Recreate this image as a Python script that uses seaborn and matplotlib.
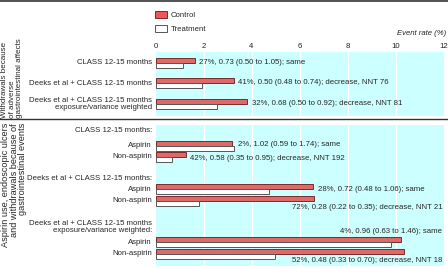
import matplotlib
matplotlib.use('Agg')
import matplotlib.pyplot as plt
import seaborn as sns
import pandas as pd
from matplotlib.patches import Patch
from matplotlib.lines import Line2D

# withdrawals because of adverse gastrointestinal affects
withdraw_labels = ['CLASS 12-15 months',
                   'Deeks et al + CLASS 12-15 months',
                   'Deeks et al + CLASS 12-15 months\nexposure/variance weighted']
withdraw_control = [1.64, 3.26, 3.83]
withdraw_treatment = [1.15, 1.94, 2.58]
withdraw_notes = ['27%, 0.73 (0.50 to 1.05); same',
                  '41%, 0.50 (0.48 to 0.74); decrease, NNT 76',
                  '32%, 0.68 (0.50 to 0.92); decrease, NNT 81']

# aspirin use, endoscopic ulcers and withdrawals
ulcer_groups = ['CLASS 12-15 months:',
                'Deeks et al + CLASS 12-15 months:',
                'Deeks et al + CLASS 12-15 months\nexposure/variance weighted:']
ulcer_labels = ['Aspirin', 'Non-aspirin'] * 3
ulcer_control = [3.20, 1.26, 6.58, 6.59, 10.23, 10.37]
ulcer_treatment = [3.27, 0.70, 4.74, 1.83, 9.81, 4.98]
ulcer_notes = ['2%, 1.02 (0.59 to 1.74); same',
               '42%, 0.58 (0.35 to 0.95); decrease, NNT 192',
               '28%, 0.72 (0.48 to 1.06); same',
               '72%, 0.28 (0.22 to 0.35); decrease, NNT 21',
               '4%, 0.96 (0.63 to 1.46); same',
               '52%, 0.48 (0.33 to 0.70); decrease, NNT 18']

section_titles = ['Withdrawals because\nof adverse\ngastrointestinal affects',
                  'Aspirin use, endoscopic ulcers\nand withdrawals because of\ngastrointestinal events']
groups = ['Control', 'Treatment']
ticks = [0, 2, 4, 6, 8, 10, 12]

# layout, in pixels from the top of the picture
W, H = 448, 269
X0, X12 = 155.5, 443.5
withdraw_rows = [63, 83.3, 103.7]
ulcer_rows = [145.7, 157, 189.3, 200.7, 242.3, 253.7]
group_rows = [130.5, 178, 227]
note_y = [62, 82.5, 103.5, 144.3, 158.5, 189.3, 207.7, 231.7, 261]
note_right = [False, False, False, False, False, False, True, True, True]
red = '#F05656'
cyan = '#CCFFFF'
fs = 5.6

sns.set_style('white')
plt.rcParams['font.family'] = ['Liberation Sans', 'DejaVu Sans']

rows = withdraw_rows + ulcer_rows
df = pd.DataFrame({
    'row': rows * 2,
    'rate': withdraw_control + ulcer_control + withdraw_treatment + ulcer_treatment,
    'group': ['Control'] * len(rows) + ['Treatment'] * len(rows),
})

fig = plt.figure(figsize=(W / 100, H / 100), dpi=100)
ax = fig.add_axes([X0 / W, 0, (X12 - X0) / W, 1 - 52 / H])

def px(x):
    # figure pixel -> data x
    return (x - X0) / (X12 - X0) * 12

# cyan panels with white grid
for top, bot in [(52, 115.5), (125, 265.5)]:
    ax.axhspan(top, bot, color=cyan, lw=0, zorder=0)
    ax.vlines(ticks[1:-1], top, bot, color='white', lw=1, zorder=0.5)

spacing = min(b - a for a, b in zip(sorted(rows)[:-1], sorted(rows)[1:]))
sns.barplot(data=df, x='rate', y='row', hue='group', hue_order=groups,
            orient='y', native_scale=True, errorbar=None, legend=False,
            palette={'Control': red, 'Treatment': 'white'},
            width=10 / spacing, edgecolor='#555555', linewidth=0.7, ax=ax)
for p in ax.patches:
    if p.get_facecolor()[1] < 0.5:
        p.set_edgecolor('#7a2a2a')

ax.set_xlim(0, 12)
ax.set_ylim(H, 52)
ax.xaxis.tick_top()
ax.set_xticks(ticks)
ax.set_yticks([])
ax.tick_params(axis='x', length=0, pad=1.5, labelsize=fs, colors='#222222')
ax.set_xlabel('')
ax.set_ylabel('')
for s in ax.spines.values():
    s.set_visible(False)

# row labels
for lab, y in zip(withdraw_labels, withdraw_rows):
    ax.text(px(152), y, lab, ha='right', va='center', fontsize=fs,
            linespacing=1.05, multialignment='right')
for lab, y in zip(ulcer_groups, group_rows):
    ax.text(px(152), y, lab, ha='right', va='center', fontsize=fs,
            linespacing=1.05, multialignment='right')
for lab, y in zip(ulcer_labels, ulcer_rows):
    ax.text(px(152), y, lab, ha='right', va='center', fontsize=fs)

# notes next to the bars
ends = [max(c, t) for c, t in zip(withdraw_control + ulcer_control,
                                   withdraw_treatment + ulcer_treatment)]
for note, end, y, right in zip(withdraw_notes + ulcer_notes, ends, note_y, note_right):
    if right:
        ax.text(11.95, y, note, ha='right', va='center', fontsize=fs)
    else:
        ax.text(end + 0.18, y, note, ha='left', va='center', fontsize=fs)

# section titles, rotated
fig.text(1.5 / W, 1 - 118 / H, section_titles[0], rotation=90, rotation_mode='anchor',
         ha='left', va='top', multialignment='left', fontsize=5.8, linespacing=1.05)
fig.text(1.5 / W, 1 - 123 / H, section_titles[1], rotation=90, rotation_mode='anchor',
         ha='right', va='top', multialignment='right', fontsize=6.6, linespacing=0.92)

# legend
handles = [Patch(facecolor=red, edgecolor='#7a2a2a', lw=0.7),
           Patch(facecolor='white', edgecolor='#555555', lw=0.7)]
ax.legend(handles, groups, loc='upper left', bbox_to_anchor=(155 / W, 1 - 11 / H),
          bbox_transform=fig.transFigure, frameon=False, fontsize=fs,
          handlelength=1.55, handleheight=1.0, handletextpad=0.5,
          labelspacing=0.75, borderpad=0, borderaxespad=0)

fig.text(446 / W, 1 - 33 / H, 'Event rate (%)', ha='right', va='center',
         fontsize=fs, style='italic')

# separator lines
fig.add_artist(Line2D([0, 1], [1 - 0.8 / H] * 2, transform=fig.transFigure,
                      color='#333333', lw=1.2))
fig.add_artist(Line2D([0, 1], [1 - 119.5 / H] * 2, transform=fig.transFigure,
                      color='#333333', lw=1.0))

fig.savefig('out.png', dpi=100)
